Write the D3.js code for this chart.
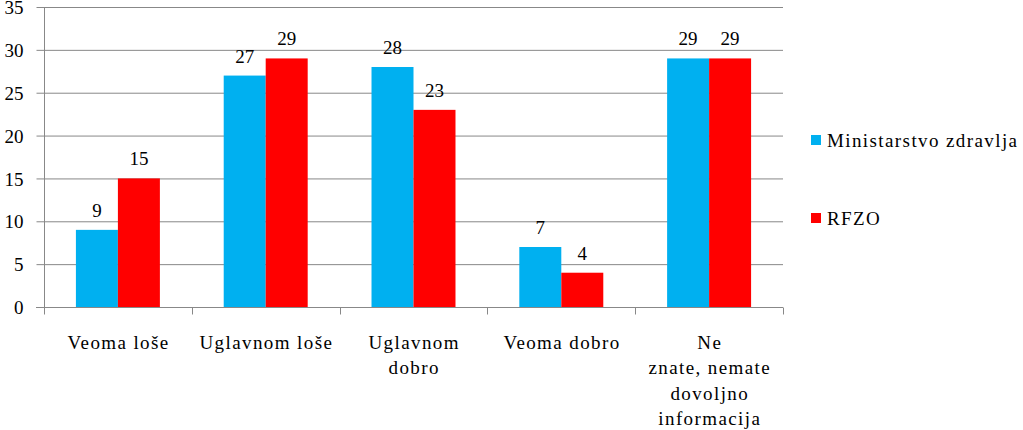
<!DOCTYPE html>
<html><head><meta charset="utf-8">
<script src="https://cdn.jsdelivr.net/npm/d3@7"></script>
<style>body{margin:0;background:#fff}svg{display:block}svg text{font-family:"Liberation Serif","DejaVu Serif","Noto Serif","Tinos","Times New Roman",serif !important;fill:#000}</style>
</head><body><svg id="c" width="1023" height="430"></svg>
<script>
const categories = ["Veoma loše","Uglavnom loše","Uglavnom dobro","Veoma dobro","Ne znate, nemate dovoljno informacija"];
const categoryLines = [["Veoma loše"],["Uglavnom loše"],["Uglavnom","dobro"],["Veoma dobro"],["Ne","znate, nemate","dovoljno","informacija"]];
const seriesNames = ["Ministarstvo zdravlja","RFZO"];
const ministarstvo = [9,27,28,7,29];
const rfzo = [15,29,23,4,29];
const yTicks = [0,5,10,15,20,25,30,35];
const colors = ["#00B0F0","#FF0000"];

(function(){
const svg = d3.select("#c");
const pLeft = 44, pRight = 783, pTop = 7, pBottom = 307;
const x = d3.scaleBand().domain(categories).range([pLeft,pRight]).paddingInner(0).paddingOuter(0);
const y = d3.scaleLinear().domain([0,35]).range([pBottom,pTop]);
const xs = d3.scaleBand().domain(seriesNames).range([0,x.bandwidth()]).paddingInner(0).paddingOuter(0.76);

svg.append("g").selectAll("line").data(yTicks.slice(1)).join("line")
  .attr("x1",pLeft).attr("x2",pRight).attr("y1",d=>y(d)+0.5).attr("y2",d=>y(d)+0.5)
  .attr("stroke","#888").attr("stroke-width",1);

const ya = svg.append("g").attr("transform",`translate(${pLeft+0.5},0)`)
  .call(d3.axisLeft(y).tickValues(yTicks).tickSize(8).tickPadding(13));
ya.attr("font-family",null);
ya.select(".domain").attr("stroke","#888").attr("d",`M0,${pTop}V${pBottom}`);
ya.selectAll(".tick line").attr("stroke","#888");
ya.selectAll(".tick text").attr("font-size","19px").attr("fill","#000").attr("dy","0.35em");

const data = categories.map((c,i)=>({c, v:[ministarstvo[i], rfzo[i]]}));
const g = svg.append("g");
data.forEach(d=>{
  d.v.forEach((v,j)=>{
    const bx = x(d.c)+xs(seriesNames[j]);
    g.append("rect").attr("x",bx).attr("y",y(v)).attr("width",xs.bandwidth()).attr("height",y(0)-y(v)).attr("fill",colors[j]);
    g.append("text").attr("x",bx+xs.bandwidth()/2).attr("y",y(v)-13).attr("text-anchor","middle")
      .attr("font-size","19px").text(v);
  });
});

const xa = svg.append("g").attr("transform",`translate(0,${pBottom+0.5})`);
xa.append("line").attr("x1",pLeft-8).attr("x2",pRight).attr("y1",0).attr("y2",0).attr("stroke","#888");
const edges = categories.map(c=>x(c)).concat([pRight]);
xa.selectAll("line.t").data(edges).join("line").attr("class","t")
  .attr("x1",d=>Math.round(d)+0.5).attr("x2",d=>Math.round(d)+0.5).attr("y1",0).attr("y2",7).attr("stroke","#888");
categories.forEach((c,i)=>{
  const t = xa.append("text").attr("text-anchor","middle").attr("font-size","19px").attr("letter-spacing","1.4px");
  categoryLines[i].forEach((ln,k)=>{
    t.append("tspan").attr("x",x(c)+x.bandwidth()/2+0.7).attr("y",41+k*25.5).text(ln);
  });
});

const lg = svg.append("g");
const ly = [140,218];
seriesNames.forEach((s,j)=>{
  lg.append("rect").attr("x",811).attr("y",ly[j]-5).attr("width",10).attr("height",10).attr("fill",colors[j]);
  lg.append("text").attr("x",827).attr("y",ly[j]).attr("dy","0.35em").attr("font-size","19px").attr("letter-spacing","1.4px").text(s);
});
})();
</script></body></html>
